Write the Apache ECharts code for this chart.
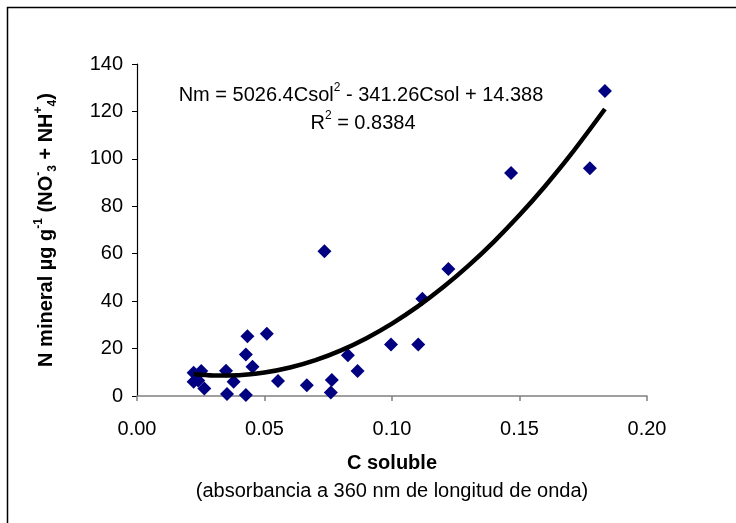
<!DOCTYPE html>
<html>
<head>
<meta charset="utf-8">
<script src="https://cdn.jsdelivr.net/npm/echarts@6/dist/echarts.min.js"></script>
<style>
  html, body { margin: 0; padding: 0; background: #fff; }
  #main { width: 736px; height: 523px; }
</style>
</head>
<body>
<div id="main"></div>
<script>
// C soluble (absorbance) and mineral N
var cSol = [0.0222, 0.0252, 0.0222, 0.0240, 0.0264, 0.0349, 0.0379, 0.0353, 0.0427,
            0.0433, 0.0427, 0.0453, 0.0509, 0.0553, 0.0666, 0.0764, 0.0760, 0.0827,
            0.0865, 0.0735, 0.0996, 0.1103, 0.1119, 0.1221, 0.1467, 0.1776, 0.1835];
var nMin = [9.8, 10.5, 6.0, 6.5, 3.2, 10.6, 6.0, 0.8, 0.4,
            25.2, 17.5, 12.3, 26.3, 6.3, 4.5, 6.7, 1.5, 17.2,
            10.5, 61.0, 21.7, 21.7, 41.0, 53.6, 94.0, 96.0, 128.6];

// polynomial trendline as drawn
var trendX = [0.0222, 0.03, 0.04, 0.05, 0.06, 0.07, 0.08, 0.09, 0.10, 0.11,
              0.12, 0.13, 0.14, 0.15, 0.16, 0.17, 0.1835];
var trendY = [9.29, 8.67, 8.78, 9.89, 12.01, 15.13, 19.26, 24.39, 30.53, 37.67,
              45.82, 54.97, 65.13, 76.29, 88.46, 101.64, 121.02];

var xTicks = [0, 0.05, 0.10, 0.15, 0.20];
var yTicks = [0, 20, 40, 60, 80, 100, 120, 140];

var font = 'Liberation Sans, Arial, sans-serif';

var myChart = echarts.init(document.getElementById('main'));

var pts = cSol.map(function (x, i) { return [x, nMin[i]]; });
var trend = trendX.map(function (x, i) { return [x, trendY[i]]; });

var option = {
  animation: false,
  backgroundColor: '#fff',
  grid: { left: 137, right: 89, top: 64, bottom: 127 },
  xAxis: {
    type: 'value',
    min: xTicks[0],
    max: xTicks[xTicks.length - 1],
    interval: 0.05,
    splitLine: { show: false },
    axisLine: { lineStyle: { color: '#808080', width: 1.5 } },
    axisTick: { length: 5, lineStyle: { color: '#808080', width: 1.5 } },
    axisLabel: {
      color: '#000', fontFamily: font, fontSize: 20, margin: 23,
      formatter: function (v) { return v.toFixed(2); }
    }
  },
  yAxis: {
    type: 'value',
    min: yTicks[0],
    max: yTicks[yTicks.length - 1],
    interval: 20,
    splitLine: { show: false },
    axisLine: { show: true, lineStyle: { color: '#000', width: 1.2 } },
    axisTick: { show: true, length: 5, lineStyle: { color: '#000' } },
    axisLabel: { color: '#000', fontFamily: font, fontSize: 20, margin: 14 }
  },
  series: [
    {
      type: 'scatter',
      data: pts,
      symbol: 'diamond',
      symbolSize: 14,
      itemStyle: { color: '#000080', opacity: 1 }
    },
    {
      type: 'line',
      data: trend,
      smooth: 0.3,
      showSymbol: false,
      lineStyle: { color: '#000', width: 4.5 },
      z: 5
    }
  ],
  graphic: [
    {
      type: 'rect',
      shape: { x: 7.5, y: 7.5, width: 740, height: 530 },
      style: { fill: 'none', stroke: '#000', lineWidth: 1.5 },
      silent: true
    },
    {
      type: 'text',
      x: 361, y: 95,
      style: {
        text: 'Nm = 5026.4Csol{sup|2} - 341.26Csol + 14.388',
        fontFamily: font, fontSize: 20, fill: '#000',
        align: 'center', verticalAlign: 'middle',
        rich: {
          sup: { fontSize: 12, verticalAlign: 'top', lineHeight: 26, fontFamily: font }
        }
      }
    },
    {
      type: 'text',
      x: 363, y: 123,
      style: {
        text: 'R{sup|2} = 0.8384',
        fontFamily: font, fontSize: 20, fill: '#000',
        align: 'center', verticalAlign: 'middle',
        rich: {
          sup: { fontSize: 12, verticalAlign: 'top', lineHeight: 26, fontFamily: font }
        }
      }
    },
    {
      type: 'text',
      x: 392, y: 463,
      style: {
        text: 'C soluble', fontFamily: font, fontSize: 20, fontWeight: 'bold',
        fill: '#000', align: 'center', verticalAlign: 'middle'
      }
    },
    {
      type: 'text',
      x: 392, y: 491,
      style: {
        text: '(absorbancia a 360 nm de longitud de onda)', fontFamily: font, fontSize: 20,
        fill: '#000', align: 'center', verticalAlign: 'middle'
      }
    },
    {
      type: 'text',
      x: 46, y: 230,
      rotation: Math.PI / 2,
      style: {
        text: 'N mineral µg g{sup|-1} (NO{sup|-}{sub|3} + NH{sup|+}{sub|4})',
        fontFamily: font, fontSize: 20, fontWeight: 'bold', fill: '#000',
        align: 'center', verticalAlign: 'middle',
        rich: {
          sup: { fontSize: 12, fontWeight: 'bold', verticalAlign: 'top', lineHeight: 26, fontFamily: font },
          sub: { fontSize: 12, fontWeight: 'bold', verticalAlign: 'bottom', lineHeight: 26, fontFamily: font }
        }
      }
    }
  ]
};

myChart.setOption(option);
</script>
</body>
</html>
